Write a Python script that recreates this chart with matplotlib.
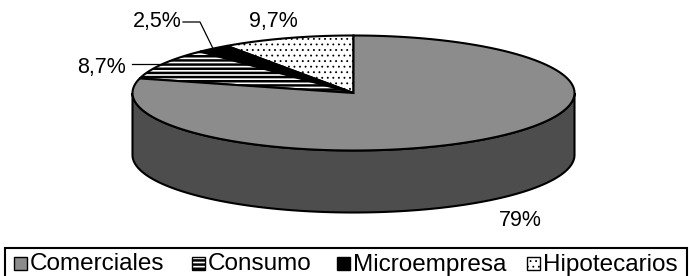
import numpy as np
import matplotlib
matplotlib.use("Agg")
import matplotlib.pyplot as plt
from matplotlib.patches import Polygon, Rectangle

categories = ['Comerciales', 'Consumo', 'Microempresa', 'Hipotecarios']
values = [79.0, 8.7, 2.5, 9.7]
labels = ['79%', '8,7%', '2,5%', '9,7%']

plt.rcParams['font.family'] = ['Liberation Sans', 'DejaVu Sans']

W, H = 689, 276
fig = plt.figure(figsize=(W / 100, H / 100), dpi=100)
ax = fig.add_axes([0, 0, 1, 1])
ax.set_xlim(0, W)
ax.set_ylim(H, 0)
ax.axis('off')

# ellipse geometry (layout)
cx, cy, rx, ry, depth = 353.5, 93, 221, 57.5, 62

def pt(t_deg, dy=0.0):
    t = np.radians(t_deg)
    return cx + rx * np.cos(t), cy - ry * np.sin(t) + dy

faces = {'Comerciales': '#8c8c8c', 'Consumo': 'white',
         'Microempresa': 'black', 'Hipotecarios': 'white'}
hatches = {'Comerciales': None, 'Consumo': '----',
           'Microempresa': None, 'Hipotecarios': '...'}
hatch_lw = {'Comerciales': 1.0, 'Consumo': 1.8, 'Microempresa': 1.0, 'Hipotecarios': 0.6}

def make_poly(verts, name, lw, z):
    with plt.rc_context({'hatch.linewidth': hatch_lw[name]}):
        p = Polygon(verts, closed=True, facecolor=faces[name], edgecolor='black',
                    lw=lw, hatch=hatches[name], zorder=z)
        if hasattr(p, 'set_hatch_linewidth'):
            p.set_hatch_linewidth(hatch_lw[name])
    return p

order = ['Hipotecarios', 'Microempresa', 'Consumo', 'Comerciales']
total = sum(values)
angles = {}
a = 90.0
for name in order:
    v = values[categories.index(name)]
    span = v / total * 360.0
    angles[name] = (a, a + span)
    a += span

# side (front half) - all within Comerciales
ts = np.linspace(180, 360, 200)
top = [pt(t) for t in ts]
bot = [pt(t, depth) for t in ts[::-1]]
ax.add_patch(Polygon(top + bot, closed=True, facecolor='#4d4d4d',
                     edgecolor='black', lw=1.5, zorder=1))

for name in order:
    a0, a1 = angles[name]
    ts = np.linspace(a0, a1, max(int(abs(a1 - a0)) * 2, 10))
    verts = [(cx, cy)] + [pt(t) for t in ts]
    ax.add_patch(make_poly(verts, name, 1.5, 2))

fs = 15.5
lab_pos = {'Hipotecarios': (273, 21), 'Microempresa': (157, 21),
           'Consumo': (102, 67), 'Comerciales': (520, 221)}
for name in order:
    x, y = lab_pos[name]
    ax.text(x, y, labels[categories.index(name)], fontsize=fs, ha='center',
            va='center', color='black', zorder=5)

def mid(name):
    a0, a1 = angles[name]
    return pt((a0 + a1) / 2)

mx, my = mid('Microempresa')
ax.plot([183, 200, mx], [22, 22, my], color='black', lw=0.9, zorder=4)
kx, ky = mid('Consumo')
ax.plot([132, kx], [ky, ky], color='black', lw=0.9, zorder=4)

# legend (drawn manually); box continues past the bottom edge as in the reference
ax.add_patch(Rectangle((5, 248), 682, 40, facecolor='white', edgecolor='black',
                       lw=1.5, zorder=3, clip_on=True))
leg_x = [14, 192, 337, 527]
for name, x in zip(categories, leg_x):
    ax.add_patch(make_poly([(x, 257), (x + 13, 257), (x + 13, 270), (x, 270)],
                           name, 1.0, 4))
    ax.text(x + 16, 270.5, name, fontsize=17.5, ha='left', va='baseline',
            color='black', zorder=5)

fig.savefig('out.png', dpi=100)
